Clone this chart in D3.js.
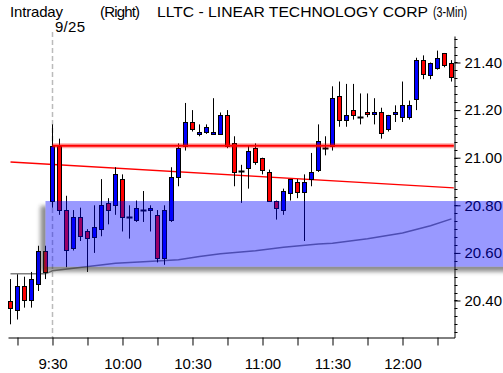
<!DOCTYPE html>
<html>
<head>
<meta charset="utf-8">
<script src="https://cdn.jsdelivr.net/npm/d3@7"></script>
<style>
  body { margin: 0; background: #fff; }
  text { font-family: "Liberation Sans", Arial, sans-serif; }
  .head text { font-family: "Liberation Sans Narrow", "Liberation Sans", Arial, sans-serif; }
</style>
</head>
<body>
<svg id="chart" width="503" height="373"></svg>
<script>
// 3-min bars from 9:12
const firstBar = '9:12';
const barMinutes = 3;
const opens = [20.40, 20.36, 20.46, 20.40, 20.47, 20.61, 20.82, 21.05, 20.78, 20.62, 20.75, 20.69, 20.67, 20.70, 20.81, 20.80,
  20.91, 20.75, 20.74, 20.78, 20.78, 20.76, 20.58, 20.74, 20.92, 21.05, 21.15, 21.10, 21.11, 21.10, 21.10, 21.18,
  21.06, 20.945, 20.96, 21.04, 21.00, 20.94, 20.82, 20.78, 20.85, 20.90, 20.86, 20.91, 20.95, 21.04, 21.05, 21.26,
  21.16, 21.20, 21.17, 21.19, 21.18, 21.19, 21.12, 21.18, 21.17, 21.17, 21.245, 21.41, 21.35, 21.38, 21.44, 21.40];
const highs = [20.49, 20.51, 20.50, 20.52, 20.63, 20.63, 21.14, 21.08, 20.84, 20.78, 20.79, 20.70, 20.80, 20.91, 20.83, 20.96,
  20.93, 20.80, 20.82, 20.86, 20.80, 20.78, 20.80, 20.96, 21.06, 21.23, 21.20, 21.14, 21.14, 21.25, 21.19, 21.20,
  21.09, 20.97, 21.05, 21.06, 21.00, 20.95, 20.82, 20.87, 20.91, 20.91, 20.93, 21.02, 21.14, 21.09, 21.30, 21.32,
  21.31, 21.31, 21.27, 21.27, 21.25, 21.21, 21.18, 21.22, 21.32, 21.24, 21.42, 21.43, 21.40, 21.45, 21.44, 21.41];
const lows = [20.30, 20.32, 20.37, 20.37, 20.44, 20.49, 20.79, 20.76, 20.54, 20.61, 20.65, 20.52, 20.60, 20.67, 20.72, 20.76,
  20.69, 20.66, 20.73, 20.73, 20.69, 20.56, 20.55, 20.73, 20.88, 21.03, 21.11, 21.09, 21.10, 21.10, 21.10, 21.04,
  20.88, 20.81, 20.87, 20.97, 20.93, 20.82, 20.74, 20.76, 20.82, 20.83, 20.65, 20.88, 20.94, 21.01, 21.03, 21.13,
  21.13, 21.16, 21.14, 21.17, 21.14, 21.08, 21.11, 21.15, 21.15, 21.16, 21.20, 21.33, 21.33, 21.37, 21.38, 21.32];
const closes = [20.37, 20.46, 20.40, 20.49, 20.61, 20.52, 21.05, 20.78, 20.61, 20.75, 20.67, 20.66, 20.71, 20.80, 20.78, 20.93,
  20.75, 20.75, 20.79, 20.78, 20.79, 20.58, 20.78, 20.92, 21.04, 21.15, 21.12, 21.11, 21.13, 21.11, 21.18, 21.05,
  20.94, 20.945, 21.03, 20.98, 20.95, 20.82, 20.79, 20.86, 20.91, 20.86, 20.90, 20.94, 21.07, 21.04, 21.25, 21.16,
  21.18, 21.18, 21.17, 21.18, 21.19, 21.10, 21.18, 21.19, 21.22, 21.22, 21.41, 21.35, 21.40, 21.42, 21.39, 21.34];

// average line (gray, runs under the band)
const avgTimes = ['9:12', '9:27', '9:30', '9:57', '10:09', '10:24', '10:33', '10:42', '10:57', '11:09', '11:24', '11:30', '11:45', '12:00', '12:12', '12:21'];
const avgValues = [20.512, 20.512, 20.525, 20.557, 20.563, 20.571, 20.585, 20.596, 20.609, 20.624, 20.637, 20.641, 20.659, 20.684, 20.714, 20.743];

// thin red trend line
const trendTimes = ['9:12', '12:22'];
const trendValues = [20.982, 20.873];

// thick red level
const levelTimes = ['9:30', '12:22'];
const levelValue = 21.05;

// blue zone
const zoneStart = '9:27';
const zoneLow = 20.542;
const zoneHigh = 20.818;

const priceTicks = [20.4, 20.6, 20.8, 21.0, 21.2, 21.4];
const markTime = '9:30';

const W = 503, H = 373,
  axisX = 454.5,
  axisY = 337.5,
  axisTop = 36,
  parseTime = d3.timeParse('%H:%M'),
  svg = d3.select('#chart');

const x = d3.scaleTime().domain([parseTime('9:30'), parseTime('12:00')]).range([52.5, 402.5]);
const y = d3.scaleLinear().domain([20.4, 21.4]).range([300.5, 62.5]);

const bars = opens.map((o, i) => ({
  t: d3.timeMinute.offset(parseTime(firstBar), i * barMinutes),
  o: o, h: highs[i], l: lows[i], c: closes[i]
}));

svg.append('rect').attr('width', W).attr('height', H).attr('fill', '#fff');

const defs = svg.append('defs');
defs.append('filter').attr('id', 'blur').attr('x', '-10%').attr('y', '-30%').attr('width', '120%').attr('height', '160%')
  .append('feGaussianBlur').attr('stdDeviation', 2.2);

const zx = x(parseTime(zoneStart)),
  zy = y(zoneHigh),
  zh = y(zoneLow) - y(zoneHigh);

const mask = defs.append('mask').attr('id', 'hole');
mask.append('rect').attr('width', W).attr('height', H).attr('fill', '#fff');
mask.append('rect').attr('x', zx).attr('y', zy).attr('width', W - zx).attr('height', zh).attr('fill', '#000');

// 9:30 dashed marker
svg.append('line')
  .attr('x1', x(parseTime(markTime))).attr('x2', x(parseTime(markTime)))
  .attr('y1', 32).attr('y2', axisY)
  .style('stroke', '#bbb')
  .style('stroke-width', 1.5)
  .style('stroke-dasharray', '5,3');

const line = d3.line().x(d => x(d[0])).y(d => y(d[1]));

svg.append('path')
  .datum(avgTimes.map((t, i) => [parseTime(t), avgValues[i]]))
  .attr('d', line)
  .style('fill', 'none')
  .style('stroke', '#808080')
  .style('stroke-width', 1.5);

svg.append('path')
  .datum(trendTimes.map((t, i) => [parseTime(t), trendValues[i]]))
  .attr('d', line)
  .style('fill', 'none')
  .style('stroke', '#ff0000')
  .style('stroke-width', 1.3);

// candles
const candle = svg.append('g').selectAll('g').data(bars).join('g');

candle.append('line')
  .attr('x1', d => x(d.t)).attr('x2', d => x(d.t))
  .attr('y1', d => y(d.h)).attr('y2', d => y(d.l))
  .style('stroke', '#000')
  .style('stroke-width', 1);

candle.filter(d => Math.abs(y(d.o) - y(d.c)) >= 1)
  .append('rect')
  .attr('x', d => x(d.t) - 2)
  .attr('width', 4)
  .attr('y', d => Math.round(y(Math.max(d.o, d.c))) + 0.5)
  .attr('height', d => Math.max(1, Math.round(y(Math.min(d.o, d.c)) - y(Math.max(d.o, d.c)))))
  .style('fill', d => d.c >= d.o ? '#0000ff' : '#ff0000')
  .style('stroke', '#000')
  .style('stroke-width', 1);

candle.filter(d => Math.abs(y(d.o) - y(d.c)) < 1)
  .append('line')
  .attr('x1', d => x(d.t) - 3).attr('x2', d => x(d.t) + 3)
  .attr('y1', d => Math.round(y(d.c)) + 0.5).attr('y2', d => Math.round(y(d.c)) + 0.5)
  .style('stroke', '#000')
  .style('stroke-width', 2);

// level line with glow
const levelPts = levelTimes.map(t => [parseTime(t), levelValue]);
svg.append('path').datum(levelPts).attr('d', line)
  .style('stroke', 'rgba(255,0,0,0.35)').style('stroke-width', 5).style('fill', 'none');
svg.append('path').datum(levelPts).attr('d', line)
  .style('stroke', '#ff0000').style('stroke-width', 2).style('fill', 'none');

// axes
const xa = x.copy().domain([x.invert(8), x.invert(axisX)]).range([8, axisX]);
const fmt = d3.timeFormat('%-H:%M');
svg.append('g')
  .attr('transform', `translate(0,${axisY})`)
  .call(d3.axisBottom(xa)
    .ticks(d3.timeMinute.every(15))
    .tickSize(8)
    .tickSizeOuter(0)
    .tickPadding(13)
    .tickFormat(d => d.getMinutes() % 30 ? '' : fmt(d)))
  .call(g => g.attr('font-family', null).attr('font-size', 15))
  .call(g => g.selectAll('text').attr('fill', '#000'));

const ya = y.copy().domain([y.invert(axisY), y.invert(axisTop)]).range([axisY, axisTop]);
const yAxis = svg.append('g')
  .attr('transform', `translate(${axisX},0)`)
  .call(d3.axisRight(ya)
    .tickValues(priceTicks)
    .tickSize(6)
    .tickSizeOuter(0)
    .tickPadding(4)
    .tickFormat(d3.format('.2f')))
  .call(g => g.attr('font-family', null).attr('font-size', 15))
  .call(g => g.selectAll('text').attr('fill', '#000'));

const minor = d3.range(0, 40).map(i => 20.2 + i * 0.2 / 6)
  .filter(v => ya(v) > axisTop + 1 && ya(v) < axisY - 1);
yAxis.selectAll('.minor').data(minor).join('line')
  .attr('class', 'minor')
  .attr('x1', 0).attr('x2', 3)
  .attr('y1', d => Math.round(ya(d)) + 0.5).attr('y2', d => Math.round(ya(d)) + 0.5)
  .style('stroke', '#000');

// zone shadow + band
svg.append('rect')
  .attr('x', zx - 5).attr('y', zy + 5)
  .attr('width', W - zx + 10).attr('height', zh)
  .attr('fill', '#333')
  .attr('opacity', 0.55)
  .attr('filter', 'url(#blur)')
  .attr('mask', 'url(#hole)');

svg.append('rect')
  .attr('x', zx).attr('y', zy)
  .attr('width', W - zx).attr('height', zh)
  .style('fill', '#0000ff')
  .style('opacity', 0.4);

// header
const head = svg.append('g').attr('class', 'head').attr('font-size', 15).attr('fill', '#000');
head.append('text').attr('x', 10).attr('y', 16.5).attr('textLength', 53).text('Intraday');
head.append('text').attr('x', 55).attr('y', 31.5).attr('textLength', 30).text('9/25');
head.append('text').attr('x', 100).attr('y', 16.5).attr('textLength', 40).text('(Right)');
head.append('text').attr('x', 157).attr('y', 16.5).attr('textLength', 271).attr('lengthAdjust', 'spacingAndGlyphs')
  .text('LLTC - LINEAR TECHNOLOGY CORP');
head.append('text').attr('x', 433).attr('y', 16.5).attr('textLength', 34).attr('lengthAdjust', 'spacingAndGlyphs').text('(3-Min)');
</script>
</body>
</html>
